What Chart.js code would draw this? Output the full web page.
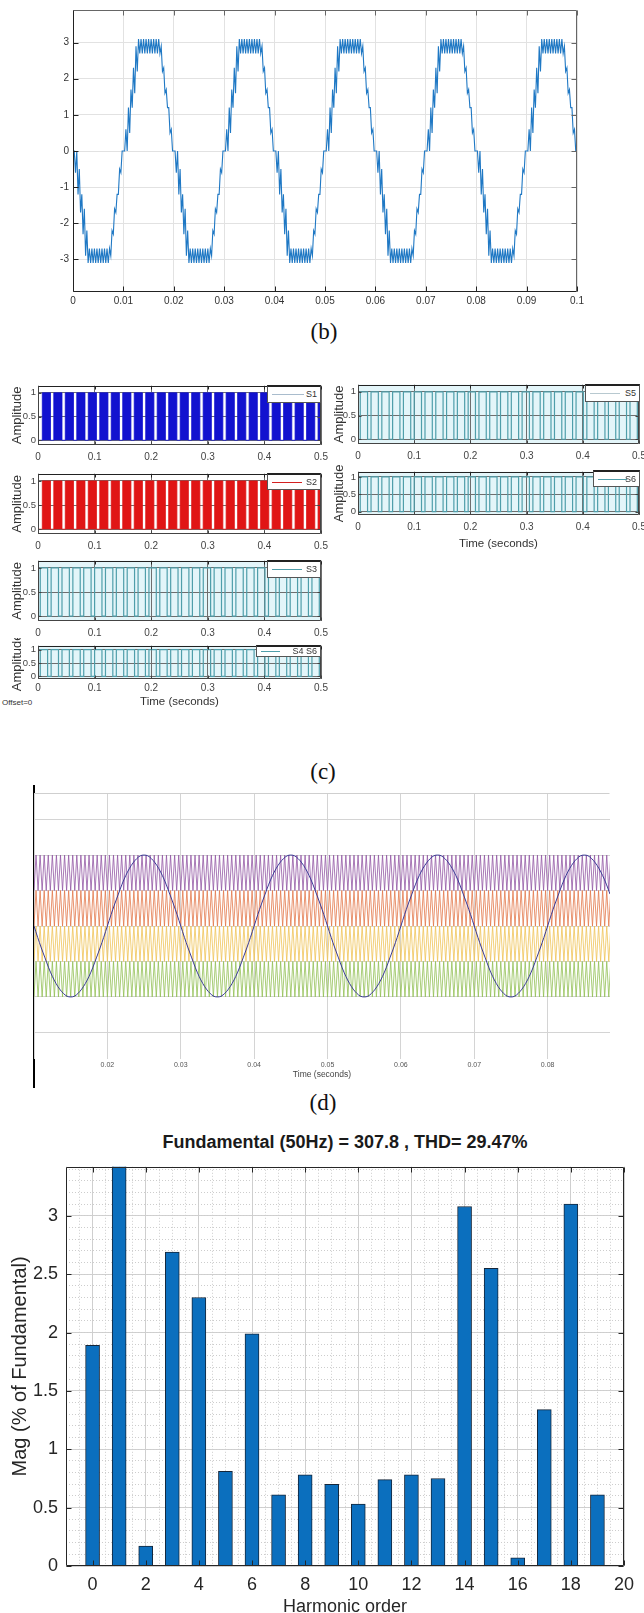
<!DOCTYPE html>
<html>
<head>
<meta charset="utf-8">
<script src="https://cdn.jsdelivr.net/npm/chart.js@4.4.1/dist/chart.umd.min.js"></script>
<style>
  body { margin: 0; background: #fff; }
  #page { position: relative; width: 644px; height: 1613px; overflow: hidden; background: #fff; font-family: 'Liberation Sans', Arial, sans-serif; }
  #page canvas { position: absolute; }
  .cap { position: absolute; font-family: 'Liberation Serif', 'Times New Roman', serif; font-size: 23px; color: #111; transform: translate(-50%, -50%); white-space: nowrap; }
  .leg { position: absolute; box-sizing: border-box; background: #fff; border: 1px solid #555; border-top: 2px solid #222; font-size: 9px; color: #333; }
  .leg i { position: absolute; height: 0; border-top: 1px solid; }
  .leg span { position: absolute; right: 3px; line-height: 10px; white-space: nowrap; }
  .txt { position: absolute; white-space: nowrap; }
</style>
</head>
<body>
<div id="page">
  <div class="cap" style="left:324px;top:332px">(b)</div>
  <div class="cap" style="left:323px;top:772px">(c)</div>
  <div class="cap" style="left:323px;top:1103px">(d)</div>
  <div class="txt" style="left:2px;top:698px;font-size:8px;color:#333">Offset=0</div>
  <div style="position:absolute;left:33px;top:785px;width:1.5px;height:303px;background:#000"></div>
  <div class="txt" style="left:345px;top:1142px;transform:translate(-50%,-50%);font-weight:bold;font-size:18px;color:#1a1a1a">Fundamental (50Hz) = 307.8 , THD= 29.47%</div>
</div>
<script>
// ---------- values ----------

// (a) output voltage: one 20 ms cycle, outer tip of the ripple every 0.5 ms, inner tip 0.25 ms later
const aPeriod = 0.02;
const aStep = 0.0005;
const aCycles = 5;
const aOuter = [0, -0.6, -1.2, -1.7, -2.3, -2.9, -3.1, -3.1, -3.1, -3.1, -3.1, -3.1, -3.1, -3.1, -3.1, -2.9, -2.3, -1.7, -1.2, -0.6,
                0, 0.6, 1.2, 1.7, 2.3, 2.9, 3.1, 3.1, 3.1, 3.1, 3.1, 3.1, 3.1, 3.1, 3.1, 2.9, 2.3, 1.7, 1.2, 0.6];
const aInner = [0, 0, -0.5, -1.2, -1.6, -2.2, -2.7, -2.7, -2.7, -2.7, -2.7, -2.7, -2.7, -2.7, -2.7, -2.2, -1.6, -1.2, -0.5, 0,
                0, 0, 0.5, 1.2, 1.6, 2.2, 2.7, 2.7, 2.7, 2.7, 2.7, 2.7, 2.7, 2.7, 2.7, 2.2, 1.6, 1.2, 0.5, 0];

// (b) gate pulses: start of each pulse (s) and pulse length (s)
const s12Start = [0.0076, 0.0279, 0.0482, 0.0685, 0.0888, 0.1091, 0.1294, 0.1497, 0.1700, 0.1903, 0.2106, 0.2309, 0.2512,
                  0.2715, 0.2918, 0.3121, 0.3324, 0.3527, 0.3730, 0.3933, 0.4136, 0.4339, 0.4542, 0.4745, 0.4948];
const s36Start = [0.004, 0.0232, 0.0424, 0.0616, 0.0808, 0.1, 0.1192, 0.1384, 0.1576, 0.1768, 0.196, 0.2152, 0.2344,
                  0.2536, 0.2728, 0.292, 0.3112, 0.3304, 0.3496, 0.3688, 0.388, 0.4072, 0.4264, 0.4456, 0.4648, 0.484];
const pulseLabels = ['S1', 'S2', 'S3', 'S4 S6', 'S5', 'S6'];
const pulseLength = [0.0145, 0.0145, 0.013, 0.013, 0.013, 0.013];

// (c) carriers and reference
const cRange = [0.01, 0.0885];
const cSineStep = 0.0005;
const cSine = [0, 0.16, 0.31, 0.45, 0.59, 0.71, 0.81, 0.89, 0.95, 0.99, 1, 0.99, 0.95, 0.89, 0.81, 0.71, 0.59, 0.45, 0.31, 0.16,
               0, -0.16, -0.31, -0.45, -0.59, -0.71, -0.81, -0.89, -0.95, -0.99, -1, -0.99, -0.95, -0.89, -0.81, -0.71, -0.59, -0.45, -0.31, -0.16];
const carrierHz = 1800;
const carrierLow = [0.5, 0, -0.5, -1];
const carrierHigh = [1, 0.5, 0, -0.5];
const carrierColors = ['#9358a4', '#e3794b', '#f0c458', '#93c055'];

// (d) harmonic spectrum
const harmonicOrder = [0, 1, 2, 3, 4, 5, 6, 7, 8, 9, 10, 11, 12, 13, 14, 15, 16, 17, 18, 19];
const harmonicMag = [1.89, 3.6, 0.17, 2.69, 2.30, 0.81, 1.99, 0.61, 0.78, 0.70, 0.53, 0.74, 0.78, 0.75, 3.08, 2.55, 0.07, 1.34, 3.10, 0.61];

// ---------- helpers ----------
Chart.defaults.font.family = "'Liberation Sans', Arial, Helvetica, sans-serif";
Chart.defaults.animation = false;
Chart.defaults.events = [];
Chart.defaults.plugins.legend.display = false;
Chart.defaults.plugins.tooltip.enabled = false;
Chart.defaults.elements.point.radius = 0;

const page = document.getElementById('page');
const fmt = v => String(+Number(v).toFixed(3));

function addCanvas(left, top, width, height) {
    const c = document.createElement('canvas');
    c.width = width;
    c.height = height;
    c.style.left = left + 'px';
    c.style.top = top + 'px';
    page.appendChild(c);
    return c.getContext('2d');
}

function addLegend(x, y, w, h, color, text, lineW) {
    const d = document.createElement('div');
    d.className = 'leg';
    Object.assign(d.style, { left: x + 'px', top: y + 'px', width: w + 'px', height: h + 'px' });
    const line = document.createElement('i');
    Object.assign(line.style, { left: '4px', width: lineW + 'px', top: Math.round(h / 2 - 2) + 'px', borderTopColor: color });
    const s = document.createElement('span');
    s.textContent = text;
    s.style.top = Math.round(h / 2 - 7) + 'px';
    d.append(line, s);
    page.appendChild(d);
}

// plot box, background and inward ticks like the original figures
const framePlugin = {
    id: 'frame',
    beforeDraw(chart, args, o) {
        if (!o.bg) return;
        const { ctx, chartArea: a } = chart;
        ctx.save();
        ctx.fillStyle = o.bg;
        ctx.fillRect(a.left, a.top, a.right - a.left, a.bottom - a.top);
        ctx.restore();
    },
    afterDatasetsDraw(chart, args, o) {
        const { ctx, chartArea: a, scales } = chart;
        const [cTop, cRight, cBottom, cLeft] = o.colors || [];
        const L = Math.round(a.left) + 0.5, R = Math.round(a.right) - 0.5;
        const T = Math.round(a.top) + 0.5, B = Math.round(a.bottom) - 0.5;
        ctx.save();
        ctx.lineWidth = 1;
        const seg = (c, x1, y1, x2, y2) => {
            if (!c) return;
            ctx.strokeStyle = c;
            ctx.beginPath();
            ctx.moveTo(x1, y1);
            ctx.lineTo(x2, y2);
            ctx.stroke();
        };
        if (o.tick) {
            scales.x.ticks.forEach(t => {
                const x = Math.round(scales.x.getPixelForValue(t.value)) + 0.5;
                seg(cBottom, x, B, x, B - o.tick);
                seg(cTop, x, T, x, T + o.tick);
            });
            scales.y.ticks.forEach(t => {
                const y = Math.round(scales.y.getPixelForValue(t.value)) + 0.5;
                seg(cLeft, L, y, L + o.tick, y);
                seg(cRight, R, y, R - o.tick, y);
            });
        }
        seg(cTop, L, T, R, T);
        seg(cRight, R, T, R, B);
        seg(cBottom, L, B, R, B);
        seg(cLeft, L, T, L, B);
        ctx.restore();
    }
};

// ---------- (a) output waveform ----------
function buildWave() {
    const pts = [];
    for (let p = 0; p < aCycles; p++) {
        aOuter.forEach((v, k) => {
            const t = p * aPeriod + k * aStep;
            pts.push({ x: t, y: v });
            pts.push({ x: t + aStep / 2, y: aInner[k] });
        });
    }
    pts.push({ x: aCycles * aPeriod, y: 0 });
    return pts;
}

new Chart(addCanvas(0, 0, 617, 320), {
    type: 'line',
    data: { datasets: [{ data: buildWave(), borderColor: '#1f78c4', borderWidth: 1.1, tension: 0 }] },
    options: {
        responsive: false,
        parsing: false,
        layout: { padding: { left: 0, top: 10, right: 40, bottom: 4 } },
        plugins: { frame: { colors: ['#666', '#666', '#222', '#222'], tick: 5 } },
        scales: {
            x: {
                type: 'linear', min: 0, max: 0.1,
                ticks: { stepSize: 0.01, includeBounds: false, callback: fmt, font: { size: 10 }, color: '#333', padding: 3, maxRotation: 0, autoSkip: false },
                grid: { color: '#e2e2e2', drawTicks: false },
                border: { display: false },
                afterFit: s => { s.height = 24; }
            },
            y: {
                min: -3.9, max: 3.9,
                ticks: { stepSize: 1, includeBounds: false, callback: fmt, font: { size: 10 }, color: '#333', padding: 4 },
                grid: { color: '#e2e2e2', drawTicks: false },
                border: { display: false },
                afterFit: s => { s.width = 73; }
            }
        }
    },
    plugins: [framePlugin]
});

// ---------- (b) gate pulses ----------
function pulsePoints(starts, len) {
    const pts = [{ x: 0, y: 0 }];
    starts.forEach(s => {
        pts.push({ x: s, y: 1 });
        pts.push({ x: Math.min(s + len, 0.5), y: 0 });
    });
    pts.push({ x: 0.5, y: 0 });
    return pts;
}

function pulseChart(c) {
    const padT = 7, padB = 2;
    const plotW = c.area.r - c.area.l;
    const yw = c.area.l - c.left;
    const ctx = addCanvas(c.left, c.area.t - padT, c.width, padT + (c.area.b - c.area.t) + c.xh + padB);
    return new Chart(ctx, {
        type: 'line',
        data: {
            datasets: [{
                data: pulsePoints(c.starts, c.len), stepped: true,
                borderColor: c.color, borderWidth: c.lw || 1.2,
                backgroundColor: c.fill || c.color, fill: c.fill ? 'origin' : false
            }]
        },
        options: {
            responsive: false,
            parsing: false,
            layout: { padding: { left: 0, top: padT, right: c.width - yw - plotW, bottom: padB } },
            plugins: { frame: { bg: c.bg, colors: ['#222', '#444', '#444', '#444'], tick: 3 } },
            scales: {
                x: {
                    type: 'linear', min: 0, max: 0.5,
                    ticks: { stepSize: 0.1, callback: fmt, font: { size: 10 }, color: '#444', padding: c.tp || 6, maxRotation: 0, autoSkip: false },
                    grid: { color: '#6e6e6e', drawTicks: false },
                    border: { display: false },
                    title: c.xTitle ? { display: true, text: c.xTitle, font: { size: 11.5 }, color: '#333', padding: 0 } : { display: false },
                    afterFit: s => { s.height = c.xh; }
                },
                y: {
                    min: -0.1, max: 1.15,
                    ticks: { stepSize: 0.5, includeBounds: false, callback: fmt, font: { size: 9.5 }, color: '#444', padding: 2 },
                    grid: { color: '#6e6e6e', drawTicks: false },
                    border: { display: false },
                    title: { display: true, text: 'Amplitude', font: { size: 13 }, color: '#333', padding: { top: 10, bottom: 0 } },
                    afterFit: s => { s.width = yw; }
                }
            }
        },
        plugins: [framePlugin]
    });
}

const cyanBg = '#e3f5f9';
const teal = '#4f9eaa';
pulseChart({ left: 0, width: 336, area: { l: 38, t: 385, r: 321, b: 445 }, xh: 18, starts: s12Start, len: pulseLength[0], color: '#1212cf', fill: '#1212cf', lw: 0.8 });
pulseChart({ left: 0, width: 336, area: { l: 38, t: 473, r: 321, b: 534 }, xh: 18, starts: s12Start, len: pulseLength[1], color: '#e01515', fill: '#e01515', lw: 0.8 });
pulseChart({ left: 0, width: 336, area: { l: 38, t: 560, r: 321, b: 621 }, xh: 18, starts: s36Start, len: pulseLength[2], color: teal, bg: cyanBg });
pulseChart({ left: 0, width: 336, area: { l: 38, t: 645, r: 321, b: 679 }, xh: 30, tp: 3, starts: s36Start, len: pulseLength[3], color: teal, bg: cyanBg, xTitle: 'Time (seconds)' });
pulseChart({ left: 322, width: 340, area: { l: 358, t: 384, r: 639, b: 444 }, xh: 18, starts: s36Start, len: pulseLength[4], color: teal, bg: cyanBg });
pulseChart({ left: 322, width: 340, area: { l: 358, t: 471, r: 639, b: 515 }, xh: 36, starts: s36Start, len: pulseLength[5], color: teal, bg: cyanBg, xTitle: 'Time (seconds)' });

addLegend(267, 385, 54, 18, '#a9bccd', pulseLabels[0], 32);
addLegend(267, 473, 54, 17, '#d42020', pulseLabels[1], 30);
addLegend(267, 560, 54, 18, teal, pulseLabels[2], 30);
addLegend(256, 645, 65, 12, teal, pulseLabels[3], 19);
addLegend(585, 384, 55, 18, '#b8c9d0', pulseLabels[4], 30);
addLegend(593, 470, 47, 17, teal, pulseLabels[5], 29);

// ---------- (c) carriers and sine reference ----------
function sinePoints() {
    const pts = [];
    const n0 = Math.round(cRange[0] / cSineStep), n1 = Math.round(cRange[1] / cSineStep);
    for (let n = n0; n <= n1; n++) pts.push({ x: n * cSineStep, y: cSine[n % cSine.length] });
    return pts;
}

function carrierPoints(lo, hi) {
    const pts = [];
    const half = 0.5 / carrierHz;
    for (let i = 0; cRange[0] + i * half <= cRange[1] + half; i++) {
        pts.push({ x: cRange[0] + i * half, y: i % 2 ? hi : lo });
    }
    return pts;
}

const cDatasets = [{ data: sinePoints(), borderColor: '#3a3a96', borderWidth: 1, tension: 0.35 }];
carrierLow.forEach((lo, i) => {
    cDatasets.push({ data: carrierPoints(lo, carrierHigh[i]), borderColor: carrierColors[i], borderWidth: 0.8, tension: 0 });
});

new Chart(addCanvas(0, 789, 644, 295), {
    type: 'line',
    data: { datasets: cDatasets },
    options: {
        responsive: false,
        parsing: false,
        layout: { padding: { left: 34, top: 4, right: 34, bottom: 4 } },
        plugins: { frame: { colors: ['#cfcfcf', null, null, null] } },
        scales: {
            x: {
                type: 'linear', min: cRange[0], max: cRange[1],
                ticks: { stepSize: 0.01, includeBounds: false, callback: v => (v < 0.015 ? '' : fmt(v)), font: { size: 7 }, color: '#555', padding: 2, maxRotation: 0, autoSkip: false },
                grid: { color: '#d4d4d4', drawTicks: false },
                border: { display: false },
                title: { display: true, text: 'Time (seconds)', font: { size: 8.5 }, color: '#444', padding: 0 },
                afterFit: s => { s.height = 21; }
            },
            y: {
                min: -1.875, max: 1.875,
                ticks: { display: false, stepSize: 0.5, includeBounds: false },
                grid: { color: '#d4d4d4', drawTicks: false },
                border: { display: false },
                afterFit: s => { s.width = 0; }
            }
        }
    },
    plugins: [framePlugin]
});

// ---------- (d) harmonic spectrum ----------
new Chart(addCanvas(0, 1148, 644, 470), {
    type: 'bar',
    data: {
        datasets: [{
            data: harmonicOrder.map((h, i) => ({ x: h, y: harmonicMag[i] })),
            backgroundColor: '#0b6fbe', borderColor: '#14263a', borderWidth: 1, borderSkipped: 'start',
            barThickness: 14
        }]
    },
    options: {
        responsive: false,
        layout: { padding: { left: 0, top: 10, right: 20, bottom: 0 } },
        plugins: { frame: { colors: ['#262626', '#262626', '#262626', '#262626'], tick: 5 } },
        scales: {
            x: {
                type: 'linear', min: -1, max: 20, offset: false,
                ticks: { stepSize: 2, includeBounds: false, callback: fmt, font: { size: 18 }, color: '#262626', padding: 8, maxRotation: 0, autoSkip: false },
                grid: { color: '#d0d0d0', drawTicks: false, offset: false },
                border: { display: false },
                title: { display: true, text: 'Harmonic order', font: { size: 18 }, color: '#262626', padding: 0 },
                afterFit: s => { s.height = 52; }
            },
            y: {
                min: 0, max: 3.42,
                ticks: { stepSize: 0.5, includeBounds: false, callback: fmt, font: { size: 18 }, color: '#262626', padding: 8 },
                grid: { color: '#d0d0d0', drawTicks: false },
                border: { display: false },
                title: { display: true, text: 'Mag (% of Fundamental)', font: { size: 20 }, color: '#262626', padding: { top: 8, bottom: 0 } },
                afterFit: s => { s.width = 66; }
            },
            xm: {
                type: 'linear', position: 'bottom', min: -1, max: 20, offset: false,
                ticks: { display: false, stepSize: 0.5, includeBounds: false },
                grid: { color: '#cdcdcd', drawTicks: false, offset: false },
                border: { display: false, dash: [1, 2] },
                afterFit: s => { s.height = 0; }
            },
            ym: {
                position: 'left', min: 0, max: 3.42,
                ticks: { display: false, stepSize: 0.1, includeBounds: false },
                grid: { color: '#cdcdcd', drawTicks: false },
                border: { display: false, dash: [1, 2] },
                afterFit: s => { s.width = 0; }
            }
        }
    },
    plugins: [framePlugin]
});
</script>
</body>
</html>
